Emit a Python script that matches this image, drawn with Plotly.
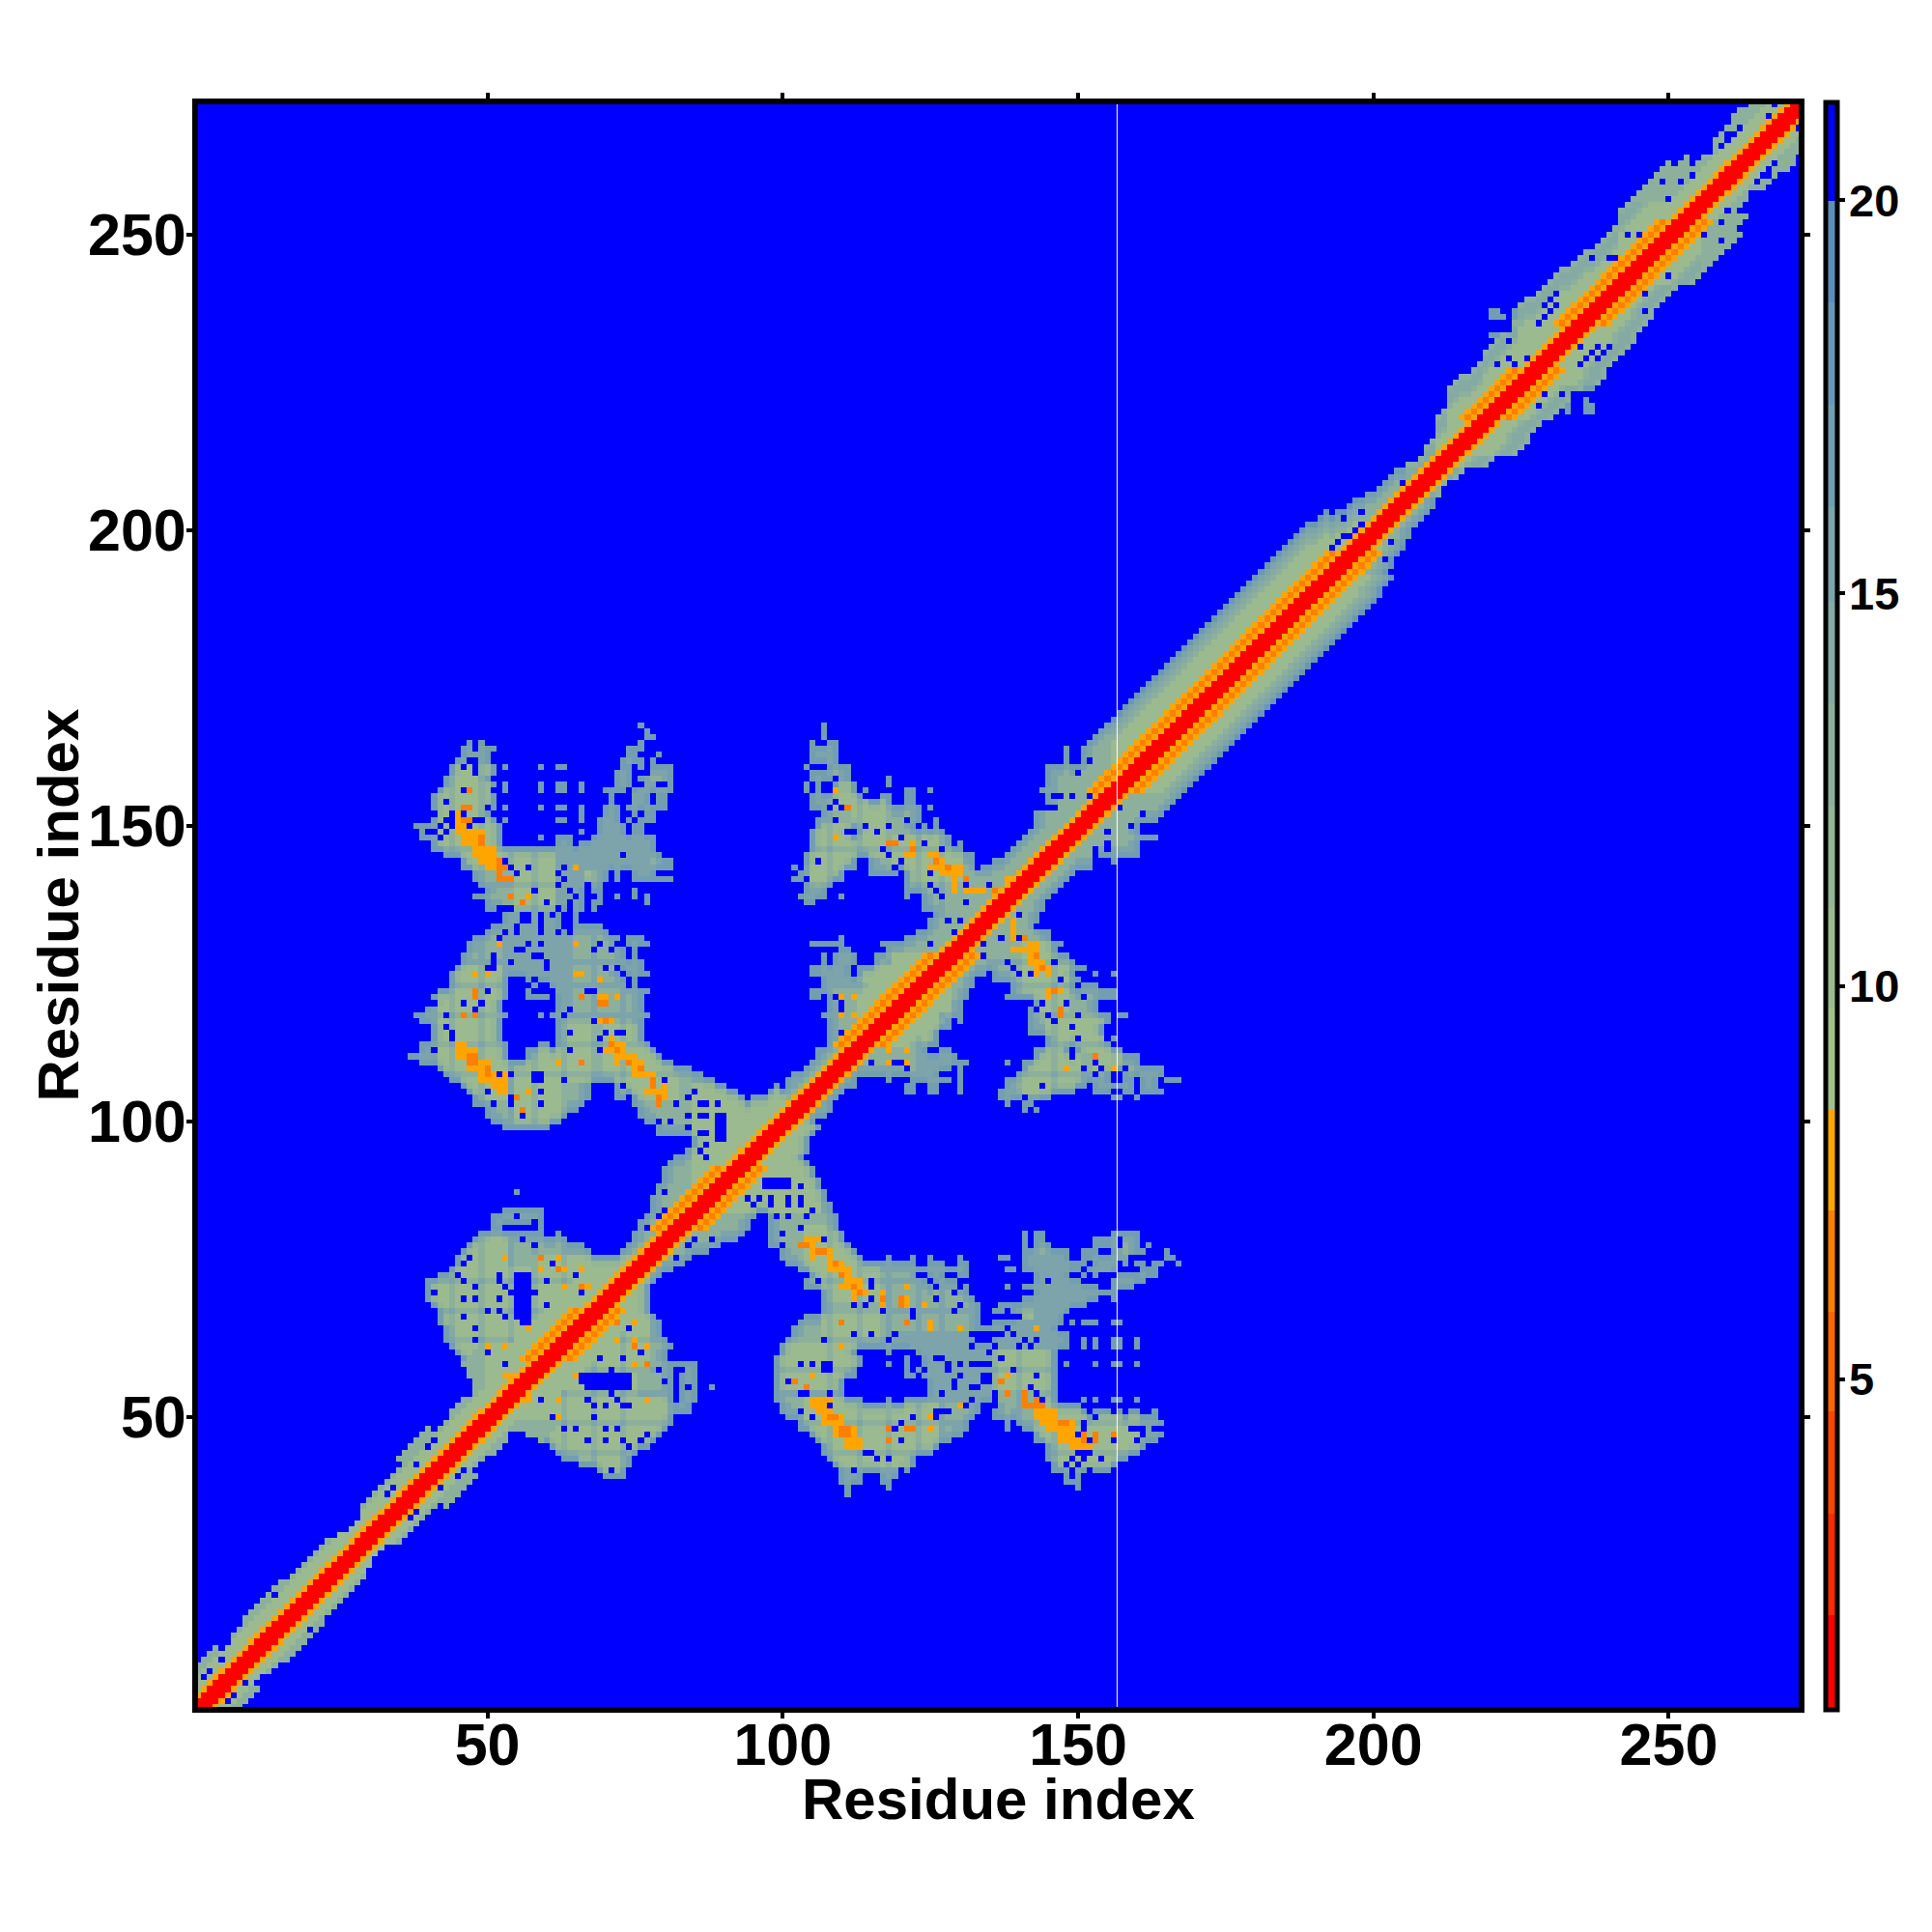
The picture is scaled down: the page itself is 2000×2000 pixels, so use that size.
import numpy as np
import plotly.graph_objects as go

N = 272
BLUE, AMBER, ORANGE, RED = 21.0, 7.8, 6.5, 1.5
GREEN, MID, PALE, STEEL = 10.0, 13.0, 15.5, 17.0

# colour scale
Z_LEVELS = [0.8, 2.0, 3.3, 4.6, 5.86, 7.15, 8.44, 9.72, 11.0, 12.3, 13.6, 14.9, 16.1, 17.4, 18.7, 20.0, 21.25]
Z_COLORS = ["#ff0000", "#ff2a00", "#ff4500", "#ff6500", "#ff8000", "#ffa500",
            "#a3bf8a", "#9cba90", "#94b596", "#8cb09c", "#84aaa3", "#7ca4aa", "#739eb1", "#6a97b6", "#5f8dbb", "#0000ff"]

X_TICKS = [50, 100, 150, 200, 250]
Y_TICKS = [50, 100, 150, 200, 250]
BAR_TICKS = [5, 10, 15, 20]
AXIS_TITLE = "Residue index"

# diagonal band: distance from the diagonal at which the band ends, held from each listed residue
BAND_RES = [1, 3, 5, 7, 9, 11, 14, 16, 18, 21, 24, 26, 29, 32, 35, 38, 41, 44, 47, 50, 55, 60, 65, 70, 73, 75, 76, 78, 80, 83, 85,
            90, 100, 110, 126, 140, 150, 155, 190, 193, 195, 198, 200, 203, 205, 207, 209, 211, 213, 216, 219, 221, 225, 227, 231,
            233, 237, 239, 242, 244, 248, 251, 254, 257, 258, 261, 263, 265]
BAND_END = [7, 7, 5, 6, 7, 7, 7, 6, 6, 6, 5, 4, 6, 6, 8, 8, 6, 7, 6, 6, 6, 6, 6, 5, 5, 6, 7, 10, 12, 11, 10,
            7, 5, 5, 5, 6, 8, 12, 11, 9, 8, 7, 6, 6, 5, 4, 5, 8, 11, 10, 11, 11, 13, 12, 12,
            11, 10, 10, 12, 12, 12, 10, 7, 6, 8, 9, 8, 7]
# helical stretches, where three orange stripes lie beside the red core: (first, last)
HELIX = [(60, 68), (82, 92), (113, 128), (156, 196), (219, 227), (235, 252)]

# residue runs to the right of the diagonal, row by row: (row, [(from, to), ...])
ROWS_RIGHT = [
    (37, [(111, 111)]), (38, [(111, 111), (118, 118), (150, 150)]),
    (39, [(110, 113), (117, 118), (148, 150)]), (40, [(70, 73), (110, 113), (117, 119), (148, 150)]),
    (41, [(69, 73), (110, 121), (146, 155)]), (42, [(66, 74), (109, 122), (146, 156)]),
    (43, [(63, 74), (108, 122), (145, 158)]), (44, [(62, 75), (107, 125), (145, 160)]),
    (45, [(61, 77), (107, 126), (145, 161)]), (46, [(59, 78), (106, 128), (143, 163)]),
    (47, [(57, 79), (105, 130), (143, 164)]), (48, [(55, 80), (103, 131), (138, 138), (141, 163)]),
    (49, [(55, 81), (103, 131), (138, 138), (140, 164)]), (50, [(50, 81), (101, 132), (136, 138), (139, 163)]),
    (51, [(51, 84), (100, 133), (136, 151), (153, 157), (159, 160), (163, 163)]), (52, [(52, 84), (100, 133), (136, 150)]),
    (53, [(53, 81), (83, 85), (99, 113), (118, 118), (121, 146), (151, 151), (153, 153), (156, 157), (160, 160)]),
    (54, [(54, 81), (83, 85), (99, 110), (125, 146)]),
    (55, [(55, 81), (83, 85), (88, 88), (99, 110), (125, 146)]), (56, [(56, 81), (83, 85), (99, 110), (125, 146)]),
    (57, [(57, 81), (83, 85), (99, 112), (121, 122), (124, 146)]), (58, [(58, 81), (83, 85), (99, 112), (121, 123), (124, 146)]),
    (59, [(59, 85), (99, 113), (118, 118), (121, 122), (124, 146), (148, 148), (153, 153), (156, 157), (160, 160)]),
    (60, [(60, 80), (99, 113), (121, 122), (124, 146)]), (61, [(61, 80), (100, 112), (118, 118), (122, 146)]),
    (62, [(62, 81), (100, 116), (117, 148), (151, 151), (153, 153), (156, 157), (160, 160)]),
    (63, [(63, 80), (101, 132), (136, 148), (151, 151), (153, 153), (156, 157), (160, 160)]),
    (64, [(64, 79), (102, 132), (136, 148)]), (65, [(65, 79), (102, 135), (136, 146)]),
    (66, [(66, 79), (103, 133), (136, 149), (151, 153), (156, 157)]), (67, [(67, 78), (104, 133), (140, 147)]),
    (68, [(68, 77), (107, 133), (136, 137), (139, 148)]), (69, [(69, 77), (107, 133), (137, 149), (150, 151)]),
    (70, [(70, 77), (107, 132), (141, 153), (156, 156)]), (71, [(71, 77), (107, 131), (143, 155), (156, 156)]),
    (72, [(72, 77), (104, 131), (138, 138), (141, 153), (156, 159)]), (73, [(73, 77), (104, 124), (126, 130), (143, 150), (156, 161)]),
    (74, [(74, 78), (105, 123), (125, 127), (130, 131), (143, 148), (151, 155), (157, 163)]),
    (75, [(75, 81), (103, 128), (129, 131), (138, 139), (141, 150), (152, 156), (161, 163)]),
    (76, [(101, 122), (125, 127), (130, 131), (141, 151), (153, 158), (160, 161), (163, 164), (167, 167)]),
    (77, [(100, 113), (118, 118), (122, 122), (125, 125), (130, 130), (137, 138), (141, 148), (151, 155), (156, 159), (165, 166)]),
    (78, [(100, 112), (141, 148), (151, 153), (156, 161), (165, 165)]),
    (79, [(98, 111), (141, 141), (143, 145), (153, 160), (162, 162)]),
    (80, [(98, 110), (141, 141), (143, 144), (153, 155), (156, 160)]),
    (81, [(98, 110), (141, 141), (143, 144), (156, 160)]), (82, [(98, 109)]), (83, [(98, 109)]), (84, [(98, 109)]),
    (85, [(85, 108)]), (86, [(86, 108)]), (87, [(87, 107)]), (88, [(88, 107)]), (89, [(89, 106)]), (90, [(90, 106)]),
    (91, [(91, 105)]), (92, [(92, 105)]), (93, [(93, 104)]), (94, [(94, 103)]), (95, [(95, 104)]), (96, [(96, 104)]),
    (97, [(97, 104)]), (98, [(98, 104)]), (99, [(99, 105)]), (100, [(100, 105)]), (101, [(101, 107)]),
    (102, [(102, 108), (141, 141), (143, 143)]), (103, [(103, 108), (138, 138), (141, 143)]),
    (104, [(104, 108), (137, 145), (156, 157), (160, 160)]),
    (105, [(105, 110), (121, 122), (125, 126), (130, 130), (137, 149), (153, 155), (158, 159), (161, 164)]),
    (106, [(106, 112), (121, 122), (125, 126), (130, 130), (138, 151), (153, 159), (161, 163)]),
    (107, [(107, 112), (118, 118), (122, 128), (130, 130), (138, 155), (158, 159), (161, 163), (165, 167)]),
    (108, [(108, 126), (130, 130), (140, 155), (158, 164)]), (109, [(109, 128), (130, 130), (141, 164)]),
    (110, [(110, 131), (138, 138), (141, 160)]), (111, [(111, 129), (143, 160)]),
    (112, [(112, 124), (127, 128), (130, 130), (143, 148), (150, 157)]),
    (113, [(113, 126), (145, 155)]), (114, [(114, 126), (145, 156)]), (115, [(115, 126), (142, 154)]),
    (116, [(116, 128), (142, 154)]), (117, [(117, 128), (130, 130), (142, 154), (155, 156)]),
    (118, [(118, 130), (142, 158)]), (119, [(119, 130), (142, 153)]), (120, [(120, 130), (143, 153)]),
    (121, [(121, 131), (138, 138), (139, 156)]), (122, [(122, 131), (139, 156)]), (123, [(123, 132), (139, 149), (151, 153)]),
    (124, [(124, 132), (136, 150)]), (125, [(125, 134), (136, 149), (153, 153), (156, 156)]),
    (126, [(126, 150), (151, 151)]), (127, [(127, 149)]), (128, [(128, 148)]), (129, [(129, 146)]), (130, [(130, 147)]),
    (131, [(131, 145)]), (132, [(132, 145)]), (133, [(133, 143)]), (134, [(134, 143)]), (135, [(135, 143)]),
    (136, [(136, 144)]), (137, [(137, 144)]), (138, [(138, 145)]), (139, [(139, 146)]), (140, [(140, 147)]),
    (141, [(141, 148)]), (142, [(142, 149)]), (143, [(143, 152)]), (144, [(144, 153), (156, 156)]), (145, [(145, 160)]),
    (146, [(146, 160)]), (147, [(147, 160)]), (148, [(148, 163)]), (149, [(149, 160)]), (150, [(150, 160)]),
    (151, [(151, 163)]), (152, [(152, 164)]), (153, [(153, 165)]), (154, [(154, 166)]), (155, [(155, 167)]),
    (220, [(233, 233), (236, 237)]), (221, [(233, 233), (236, 237)]), (222, [(236, 236)]), (224, [(224, 237)]), (225, [(225, 237)]),
]

# cells inside the blobs that stay blue
HOLES = [
    (107, 80), (106, 73), (115, 73), (115, 72), (123, 74), (125, 73), (126, 72), (126, 70), (130, 72), (130, 73), (129, 71), (130, 69),
    (129, 68), (112, 69), (114, 69), (117, 68), (115, 70), (122, 68), (122, 67), (112, 64), (107, 63), (119, 64), (118, 63), (115, 64),
    (132, 64), (132, 62), (133, 63), (134, 63), (135, 63), (135, 61), (134, 59), (132, 59), (133, 59), (135, 59), (137, 60), (139, 58),
    (136, 64), (137, 64), (139, 64), (138, 65), (140, 67), (136, 62), (140, 62), (142, 62), (143, 63), (141, 63), (145, 73), (148, 66),
    (103, 59), (105, 59), (107, 59), (108, 59), (107, 58), (108, 58), (101, 56), (103, 54), (104, 54), (108, 54), (105, 52), (108, 52),
    (103, 51), (105, 50), (122, 50), (120, 49), (119, 48), (120, 46), (126, 51), (127, 51), (128, 51), (126, 50), (131, 52), (130, 59),
    (122, 61), (122, 60), (122, 59), (122, 58), (124, 58), (126, 60), (127, 60), (128, 58), (128, 59), (130, 57), (129, 56), (129, 55),
    (132, 55), (133, 55), (134, 57), (135, 57), (134, 56), (135, 56), (127, 54), (132, 53), (143, 57), (142, 55), (143, 54), (144, 53),
    (136, 54), (136, 53), (136, 52), (150, 47), (152, 46), (153, 50), (156, 46), (151, 49), (151, 48), (150, 44), (151, 44), (152, 44),
    (149, 43), (151, 43), (148, 42), (150, 42), (152, 41), (149, 41), (149, 40), (154, 43), (156, 51), (159, 48), (160, 48), (161, 48),
    (161, 47), (163, 48), (160, 46), (112, 41), (114, 44), (115, 44), (116, 43), (118, 43), (120, 41), (159, 77), (151, 75), (152, 74),
    (152, 73), (154, 74), (155, 74), (156, 74), (157, 80), (157, 79), (157, 76), (157, 75), (154, 78), (155, 78),
    (66, 57), (67, 57), (68, 57), (69, 57), (70, 57), (71, 57), (72, 57), (73, 57), (74, 57), (66, 56), (67, 56), (68, 56), (69, 56),
    (70, 56), (71, 56), (72, 56), (73, 56), (74, 56), (67, 55), (68, 55), (69, 55), (70, 55), (71, 55), (72, 55), (73, 55), (74, 55),
    (71, 58), (71, 54), (72, 53), (73, 52), (74, 52), (68, 52), (70, 52), (67, 53), (59, 53), (68, 50), (61, 50), (63, 48), (65, 48), (70, 48),
    (72, 48), (67, 46), (70, 46), (73, 46), (74, 45), (76, 46), (77, 47), (71, 41), (76, 61), (69, 60), (73, 60), (79, 58), (83, 58),
    (80, 56), (82, 57), (82, 56), (82, 55), (84, 55), (82, 54), (74, 65), (71, 66), (84, 79), (85, 80), (88, 80), (88, 78), (82, 77),
    (94, 87), (96, 87), (95, 86), (98, 87), (98, 86), (101, 87), (101, 86), (103, 87), (103, 86), (99, 84), (101, 84), (104, 84), (105, 85),
    (103, 82), (100, 81), (100, 79), (103, 89), (98, 89), (97, 90), (98, 90), (99, 90), (100, 90), (101, 90), (97, 89), (99, 89), (100, 89), (101, 89),
    (130, 125), (132, 129), (134, 130), (134, 128), (138, 127), (139, 126), (140, 125), (142, 125), (147, 124), (146, 127), (140, 135), (143, 133),
    (137, 131), (140, 131), (143, 119), (144, 120), (145, 118), (146, 117), (148, 120), (151, 121), (150, 118), (149, 116), (156, 118), (156, 117),
    (150, 114), (149, 112), (149, 111), (155, 114), (144, 106), (151, 109), (153, 110), (154, 109), (153, 108), (158, 109), (160, 107), (160, 106),
    (160, 105), (157, 108), (141, 104), (143, 103), (121, 109), (119, 110), (120, 110), (115, 110), (125, 112), (126, 112), (130, 112),
    (161, 152), (159, 150), (157, 153), (157, 154), (155, 152), (155, 149), (155, 147), (155, 146), (153, 146), (153, 145), (153, 144),
    (228, 224), (228, 221), (229, 226), (229, 223), (232, 223), (234, 223), (235, 231), (238, 231), (240, 231), (237, 230), (239, 230),
    (236, 229), (238, 229), (235, 228), (246, 241), (246, 240), (246, 237), (248, 244), (250, 245), (250, 243), (256, 250), (259, 252),
    (260, 254), (259, 249), (265, 259), (266, 260), (267, 260), (267, 261), (268, 262), (270, 267), (272, 268),
    (46, 41), (45, 40), (42, 38), (42, 35), (37, 33), (38, 34), (20, 14), (9, 5), (6, 2), (7, 3),
    (197, 193), (199, 196), (199, 195), (202, 195), (200, 197), (201, 198), (203, 198), (198, 194), (208, 205),
]

# off-diagonal contact cells: (row, from, to)
AMBER_RUNS = [
    (80, 104, 106), (79, 103, 105), (78, 105, 108), (77, 105, 105), (77, 108, 108), (76, 108, 110), (75, 108, 111), (74, 110, 111),
    (73, 111, 113), (72, 110, 113), (71, 112, 114), (70, 112, 112), (71, 117, 117), (69, 117, 117), (72, 121, 121), (70, 120, 121),
    (69, 120, 121), (69, 124, 124), (66, 125, 125), (65, 125, 125), (65, 130, 130), (62, 110, 110), (65, 143, 143), (57, 105, 105),
    (53, 105, 108), (52, 105, 107), (51, 106, 108), (50, 107, 110), (49, 107, 110), (48, 109, 112), (47, 109, 112), (46, 111, 113),
    (45, 111, 113), (50, 125, 125), (48, 125, 125), (52, 130, 130),
    (51, 143, 146), (50, 143, 146), (49, 144, 149), (48, 145, 149), (47, 147, 149), (46, 147, 150), (45, 149, 152), (57, 138, 138),
    (138, 141, 141), (136, 138, 139), (134, 139, 139), (133, 139, 139), (132, 139, 139), (131, 139, 139), (130, 142, 143),
    (129, 139, 143), (128, 142, 143), (127, 142, 144), (126, 143, 145), (125, 143, 143), (125, 145, 145), (122, 145, 147), (121, 145, 145),
    (109, 148, 148), (109, 156, 156), (112, 118, 118), (112, 121, 121), (110, 118, 118), (110, 121, 121), (67, 72, 72), (66, 75, 75),
    (63, 72, 72), (63, 75, 75), (62, 77, 77), (59, 75, 75), (59, 77, 77), (57, 65, 65), (53, 62, 62), (50, 62, 62), (53, 77, 77), (54, 57, 57), (53, 57, 57),
]
ORANGE_RUNS = [
    (79, 103, 104), (78, 106, 107), (76, 109, 109), (74, 110, 110), (72, 112, 112), (71, 113, 113), (70, 117, 117), (70, 120, 120), (69, 120, 120),
    (66, 110, 110), (66, 121, 121), (48, 118, 118), (46, 118, 118), (48, 121, 122), (56, 102, 102), (55, 104, 104), (54, 138, 138), (56, 137, 137),
    (54, 141, 141), (53, 141, 141), (53, 143, 143), (52, 141, 144), (48, 110, 111), (47, 110, 111), (50, 108, 109), (49, 147, 148), (47, 151, 151),
    (47, 153, 153), (46, 151, 151), (46, 153, 153), (47, 156, 156), (122, 146, 146), (119, 147, 147), (118, 147, 147), (111, 153, 153),
    (136, 139, 139), (131, 141, 141), (128, 143, 143), (126, 144, 144), (112, 115, 115), (66, 72, 72), (62, 75, 75), (59, 77, 77),
]

# paler or greener parts of the blobs: (x from, x to, y from, y to)
GREEN_PATCHES = [
    (104, 116, 70, 82), (100, 112, 55, 63), (104, 126, 42, 53), (137, 147, 54, 68), (145, 160, 42, 54), (143, 150, 47, 56),
    (140, 150, 105, 112), (140, 148, 118, 130), (145, 156, 112, 118), (153, 157, 108, 112), (115, 128, 113, 125),
    (60, 80, 41, 50), (70, 80, 48, 53), (107, 116, 63, 68), (86, 106, 85, 100), (50, 60, 50, 75), (65, 77, 58, 75),
]
STEEL_PATCHES = [(143, 155, 67, 77), (118, 135, 53, 64), (136, 147, 62, 66), (123, 130, 108, 111), (132, 135, 57, 62)]
# residues whose rows and columns read as bluer streaks through the blobs
STREAK_RESIDUES = [44, 49, 54, 58, 63, 68, 73, 108, 113, 118, 123, 127, 133, 140, 146]
# shading towards the band edge in the smooth stretches, outermost cell first
BAND_EDGE_SHADES = [17.5, 16.0, 14.5, 12.5]

WHITE_LINE_AT = 156.6


def build_matrix():
    mask = np.zeros((N + 2, N + 2), dtype=bool)
    ends = np.zeros(N + 2, dtype=int)
    for i in range(1, N + 1):
        k = np.searchsorted(BAND_RES, i, side="right") - 1
        ends[i] = BAND_END[k]
        for j in range(i, min(N, i + BAND_END[k]) + 1):
            mask[i, j] = True
    for row, runs in ROWS_RIGHT:
        for a, b in runs:
            mask[row, max(a, row):min(b, N) + 1] = True
    mask = mask | mask.T
    edge1 = mask & ~(np.roll(mask, 1, 0) & np.roll(mask, -1, 0) & np.roll(mask, 1, 1) & np.roll(mask, -1, 1))
    inner = mask & ~edge1
    edge2 = inner & ~(np.roll(inner, 1, 0) & np.roll(inner, -1, 0) & np.roll(inner, 1, 1) & np.roll(inner, -1, 1))
    z = np.full((N + 2, N + 2), BLUE)
    z[mask] = MID
    for x0, x1, y0, y1 in GREEN_PATCHES:
        z[y0:y1 + 1, x0:x1 + 1] = np.where(mask[y0:y1 + 1, x0:x1 + 1], GREEN, BLUE)
        z[x0:x1 + 1, y0:y1 + 1] = np.where(mask[x0:x1 + 1, y0:y1 + 1], GREEN, BLUE)
    for x0, x1, y0, y1 in STEEL_PATCHES:
        z[y0:y1 + 1, x0:x1 + 1] = np.where(mask[y0:y1 + 1, x0:x1 + 1], PALE, BLUE)
        z[x0:x1 + 1, y0:y1 + 1] = np.where(mask[x0:x1 + 1, y0:y1 + 1], PALE, BLUE)
    for r in STREAK_RESIDUES:
        for other in range(36, 170):
            if mask[r, other] and abs(r - other) > 8:
                z[r, other] = z[other, r] = min(z[r, other] + 2.6, PALE)
    z[edge2] = np.minimum(z[edge2] + 2, PALE)
    z[edge1] = STEEL
    for i in range(1, N + 1):
        if 155 < i < 198 or 205 < i < 256:
            for d in range(0, ends[i] + 1):
                j = i + d
                if j <= N:
                    off = ends[i] - d
                    v = BAND_EDGE_SHADES[off] if off < len(BAND_EDGE_SHADES) else GREEN
                    if 205 < i < 256 and off < 3:
                        v = min(v, MID + off)
                    z[i, j] = z[j, i] = v
    for i in list(range(1, 50)) + list(range(256, N + 1)):
        for j in range(1, N + 1):
            if mask[i, j] and abs(i - j) < 14:
                z[i, j] = z[j, i] = GREEN if abs(i - j) < 6 else MID
    for x, y in HOLES:
        z[y, x] = z[x, y] = BLUE
    for row, a, b in AMBER_RUNS:
        z[row, a:b + 1] = AMBER
        z[a:b + 1, row] = AMBER
    for row, a, b in ORANGE_RUNS:
        z[row, a:b + 1] = ORANGE
        z[a:b + 1, row] = ORANGE
    # diagonal: the red core is four cells wide, d = -1 .. 2
    stripes = {1: RED, 2: RED, 3: AMBER, 4: ORANGE, 5: AMBER}
    for i in range(1, N + 1):
        helix = any(a <= i <= b for a, b in HELIX)
        for d in range(-4, 6):
            j = i + d
            if not 1 <= j <= N:
                continue
            k = d if d > 0 else 1 - d
            if k in stripes and (helix or k <= 3):
                z[i, j] = stripes[k]
    return z[1:N + 1, 1:N + 1]


Z = build_matrix()
residues = list(range(1, N + 1))

span = Z_LEVELS[-1] - Z_LEVELS[0]
scale = []
for k, c in enumerate(Z_COLORS):
    lo = (Z_LEVELS[k] - Z_LEVELS[0]) / span
    hi = (Z_LEVELS[k + 1] - Z_LEVELS[0]) / span
    scale += [[lo, c], [hi, c]]

FONT = "Liberation Sans"
PLOT_H, BAR_LEN = 1659, 1664
title_font = dict(family=FONT, size=60, color="black", weight="bold")
fig = go.Figure(go.Heatmap(
    x=residues, y=residues, z=Z.tolist(), zmin=Z_LEVELS[0], zmax=Z_LEVELS[-1], colorscale=scale, zsmooth=False,
    colorbar=dict(thickness=12, outlinewidth=5, outlinecolor="black", borderwidth=0, lenmode="pixels", len=BAR_LEN,
                  y=0.5, yanchor="middle", ypad=0, xpad=0, x=1.0166, xanchor="left",
                  tickmode="array", tickvals=BAR_TICKS, ticks="outside", ticklen=6, tickwidth=4, tickcolor="black",
                  showticklabels=False),
))
axis = dict(showline=True, linewidth=6, linecolor="black", mirror="ticks", ticks="outside", ticklen=6, tickwidth=4,
            tickcolor="black", showgrid=False, zeroline=False, range=[1, 272], constrain="domain",
            tickfont=dict(family=FONT, size=61, color="black", weight="bold"))
fig.update_xaxes(**axis, tickmode="array", tickvals=X_TICKS, ticklabelstandoff=-25)
fig.update_yaxes(**axis, tickmode="array", tickvals=Y_TICKS, ticklabelstandoff=-12)
fig.add_shape(type="line", x0=WHITE_LINE_AT, x1=WHITE_LINE_AT, y0=0, y1=1, yref="paper", line=dict(color="white", width=1))
fig.add_annotation(text=AXIS_TITLE, xref="paper", yref="paper", x=0.5, y=0, yanchor="middle", xanchor="center",
                   yshift=-95, showarrow=False, font=title_font)
fig.add_annotation(text=AXIS_TITLE, xref="paper", yref="paper", x=0, y=0.5, yanchor="middle", xanchor="center",
                   xshift=-145, textangle=-90, showarrow=False, font=title_font)
for v in BAR_TICKS:
    fig.add_annotation(text=str(v), xref="paper", yref="paper", x=1.0, xanchor="left", xshift=50,
                       y=0.5 + ((v - Z_LEVELS[0]) / span - 0.5) * BAR_LEN / PLOT_H, yanchor="middle", showarrow=False,
                       font=dict(family=FONT, size=47, color="black", weight="bold"))
fig.update_layout(width=1992, height=1992, autosize=False, paper_bgcolor="white", plot_bgcolor="white",
                  margin=dict(l=197, r=138, t=100, b=233, autoexpand=False))
fig.write_html("out.html")
